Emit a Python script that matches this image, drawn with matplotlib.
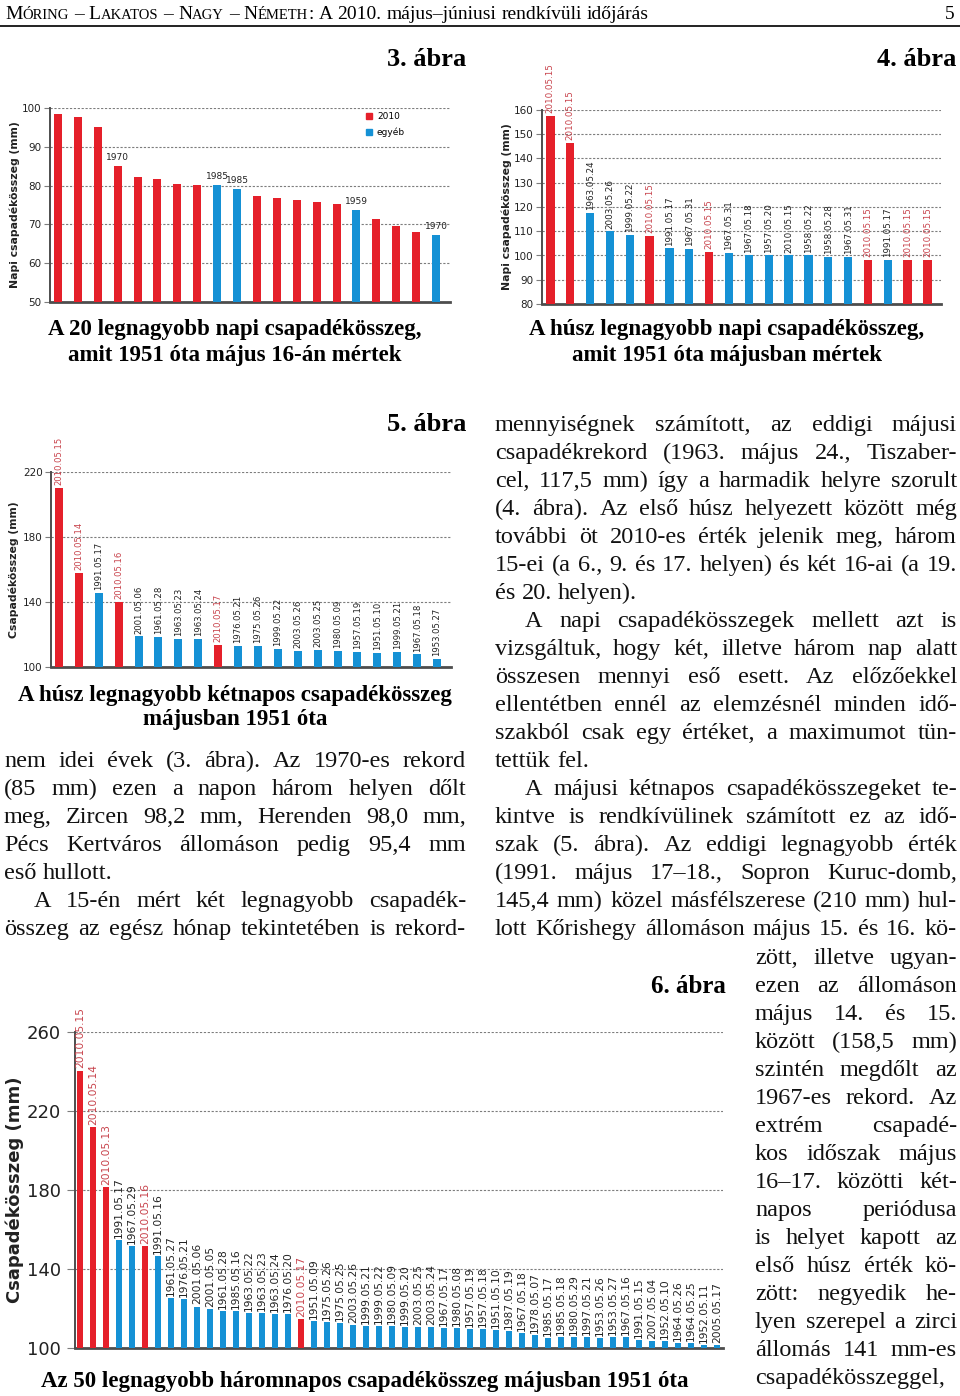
import matplotlib
matplotlib.use("Agg")
import matplotlib.pyplot as plt
from matplotlib.patches import Patch
import numpy as np

# ── data ─────────────────────────────────────────────────────
# 3. ábra: 20 largest daily sums on 16 May
c3_values = [98.4, 97.7, 95.1, 85.0, 82.2, 81.7, 80.5, 80.2, 80.2, 79.2,
             77.3, 76.7, 76.4, 75.7, 75.3, 73.7, 71.4, 69.5, 68.0, 67.2]
c3_groups = ["2010", "2010", "2010", "2010", "2010", "2010", "2010", "2010", "egyéb", "egyéb",
             "2010", "2010", "2010", "2010", "2010", "egyéb", "2010", "2010", "2010", "egyéb"]
c3_years  = ["", "", "", "1970", "", "", "", "", "1985", "1985",
             "", "", "", "", "", "1959", "", "", "", "1970"]

# 4. ábra: 20 largest daily sums in May
c4_dates  = ["2010.05.15", "2010.05.15", "1963.05.24", "2003.05.26", "1999.05.22",
             "2010.05.15", "1991.05.17", "1967.05.31", "2010.05.15", "1967.05.31",
             "1967.05.18", "1957.05.20", "2010.05.15", "1958.05.22", "1958.05.28",
             "1967.05.31", "2010.05.15", "1991.05.17", "2010.05.15", "2010.05.15"]
c4_values = [157.5, 146.3, 117.7, 109.9, 108.5, 108.1, 102.9, 102.6, 101.4, 101.0,
             100.0, 100.0, 100.0, 100.0, 99.3, 99.3, 98.3, 98.3, 98.3, 98.3]
c4_groups = ["2010", "2010", "egyéb", "egyéb", "egyéb", "2010", "egyéb", "egyéb", "2010", "egyéb",
             "egyéb", "egyéb", "egyéb", "egyéb", "egyéb", "egyéb", "2010", "egyéb", "2010", "2010"]

# 5. ábra: 20 largest two-day sums in May
c5_dates  = ["2010.05.15", "2010.05.14", "1991.05.17", "2010.05.16", "2001.05.06",
             "1961.05.28", "1963.05.23", "1963.05.24", "2010.05.17", "1976.05.21",
             "1975.05.26", "1999.05.22", "2003.05.26", "2003.05.25", "1980.05.09",
             "1957.05.19", "1951.05.10", "1999.05.21", "1967.05.18", "1953.05.27"]
c5_values = [210.1, 158.0, 145.5, 140.0, 118.9, 118.5, 117.1, 117.1, 113.8, 113.2,
             113.2, 111.3, 109.9, 110.7, 109.9, 109.5, 108.9, 109.3, 107.8, 105.1]
c5_groups = ["2010", "2010", "egyéb", "2010", "egyéb", "egyéb", "egyéb", "egyéb", "2010", "egyéb",
             "egyéb", "egyéb", "egyéb", "egyéb", "egyéb", "egyéb", "egyéb", "egyéb", "egyéb", "egyéb"]

# 6. ábra: 50 largest three-day sums in May
c6_dates  = ["2010.05.15", "2010.05.14", "2010.05.13", "1991.05.17", "1967.05.29",
             "2010.05.16", "1991.05.16", "1961.05.27", "1976.05.21", "2001.05.06",
             "2001.05.05", "1961.05.28", "1985.05.16", "1963.05.22", "1963.05.23",
             "1963.05.24", "1976.05.20", "2010.05.17", "1951.05.09", "1975.05.26",
             "1975.05.25", "2003.05.26", "1999.05.21", "1999.05.22", "1980.05.09",
             "1999.05.20", "2003.05.25", "2003.05.24", "1967.05.17", "1980.05.08",
             "1957.05.19", "1957.05.18", "1951.05.10", "1987.05.19", "1967.05.18",
             "1978.05.07", "1985.05.17", "1985.05.18", "1980.05.29", "1997.05.21",
             "1953.05.26", "1953.05.27", "1967.05.16", "1991.05.15", "2007.05.04",
             "1952.05.10", "1964.05.26", "1964.05.25", "1952.05.11", "2005.05.17"]
c6_values = [240.5, 211.8, 181.6, 154.6, 151.5, 151.5, 146.5, 125.2, 125.0, 121.0,
             119.8, 118.6, 118.6, 117.6, 117.6, 117.4, 117.0, 114.5, 113.6, 113.0,
             112.8, 111.8, 110.9, 110.9, 110.9, 110.4, 110.4, 110.4, 110.3, 110.3,
             109.7, 109.7, 109.1, 108.8, 107.6, 106.7, 105.2, 105.5, 105.4, 105.7,
             105.2, 105.5, 105.4, 104.0, 103.5, 103.4, 102.4, 102.4, 101.7, 101.5]
c6_groups = ["2010" if d.startswith("2010") else "egyéb" for d in c6_dates]

# ── style ────────────────────────────────────────────────────
RED, BLUE = "#e5202a", "#1591d5"
LABEL_RED, LABEL_DARK = "#c8434c", "#222222"
GRID, SPINE = "#7d7d7d", "#4d4d4d"
SANS, SERIF = "DejaVu Sans", "Liberation Serif"
W, H = 960, 1396

fig = plt.figure(figsize=(W / 100, H / 100), dpi=100, facecolor="white")
page = fig.add_axes([0, 0, 1, 1])
page.set_xlim(0, W)
page.set_ylim(H, 0)
page.axis("off")
R = fig.canvas.get_renderer()


def px_rect(left, top, right, bottom):
    return [left / W, 1 - bottom / H, (right - left) / W, (bottom - top) / H]


def width_of(s, **kw):
    t = page.text(0, 0, s, **kw)
    w = t.get_window_extent(renderer=R).width
    t.remove()
    return w


def jline(x0, x1, y, s, size=17.5, last=False, indent=0):
    # justified serif line, y = baseline in page pixels; shrink if it won't fit
    words = s.split(" ")
    while True:
        kw = dict(fontsize=size, family=SERIF, color="#111111")
        ws = [width_of(w, **kw) for w in words]
        room = x1 - x0 - indent - sum(ws)
        if len(words) == 1 or room / (len(words) - 1) >= size * 0.2 or size < 12:
            break
        size -= 0.25
    x = x0 + indent
    if last or len(words) == 1:
        gap = size * 0.25 * 1.39
    else:
        gap = room / (len(words) - 1)
    for w, wd in zip(words, ws):
        page.text(x, y, w, ha="left", va="baseline", **kw)
        x += wd + gap


def bar_chart(rect, values, groups, ylim, yticks, xlim, width, tick_fs, ylabel, ylabel_fs, ylabel_x):
    ax = fig.add_axes(px_rect(*rect))
    ax.set_facecolor("none")
    x = np.arange(len(values))
    colors = [RED if g == "2010" else BLUE for g in groups]
    ax.bar(x, values, width, color=colors, zorder=3)
    ax.set_xlim(*xlim)
    ax.set_ylim(*ylim)
    ax.set_xticks([])
    ax.set_yticks(yticks)
    ax.set_yticklabels([str(v) for v in yticks], fontsize=tick_fs, family=SANS, color="#222")
    ax.yaxis.grid(True, color=GRID, linestyle=(0, (2, 1.5)), linewidth=0.8, zorder=0)
    ax.tick_params(axis="y", length=4, width=0.8, color=GRID, pad=2)
    for s in ["top", "right"]:
        ax.spines[s].set_visible(False)
    ax.spines["left"].set_color(SPINE)
    ax.spines["left"].set_linewidth(1.4)
    ax.spines["bottom"].set_color(SPINE)
    ax.spines["bottom"].set_linewidth(2)
    ax.set_ylabel(ylabel, fontsize=ylabel_fs, family=SANS, fontweight="bold", color="#222")
    ax.yaxis.set_label_coords(ylabel_x, 0.5)
    return ax


def date_labels(ax, dates, values, groups, fs, gap=2):
    for i, (d, v, g) in enumerate(zip(dates, values, groups)):
        ax.annotate(d, (i, v), xytext=(0, gap), textcoords="offset points",
                    rotation=90, ha="center", va="bottom", fontsize=fs, family=SANS,
                    color=LABEL_RED if g == "2010" else LABEL_DARK, annotation_clip=False)


def bold_title(x, y, s, size=16.5):
    page.text(x, y, s, fontsize=size, family=SERIF, fontweight="bold", ha="center", va="center")


# ── header ───────────────────────────────────────────────────
hx = 5
for big, small, gap in [("M", "ÓRING", 5), ("–", "", 5), ("L", "AKATOS", 5), ("–", "", 5),
                        ("N", "AGY", 5), ("–", "", 5), ("N", "ÉMETH", 0), (":", "", 5),
                        ("A", "", 5), ("2010.", "", 5), ("május–júniusi", "", 5),
                        ("rendkívüli", "", 5), ("időjárás", "", 0)]:
    page.text(hx, 19, big, fontsize=14, family=SERIF, ha="left", va="baseline")
    hx += width_of(big, fontsize=14, family=SERIF)
    if small:
        page.text(hx, 19, small, fontsize=10.5, family=SERIF, ha="left", va="baseline")
        hx += width_of(small, fontsize=10.5, family=SERIF)
    hx += gap
page.text(955, 19, "5", fontsize=14, family=SERIF, ha="right", va="baseline")
page.plot([0, W], [26, 26], color="#111", lw=1.3)

# ── 3. ábra ──────────────────────────────────────────────────
ax3 = bar_chart((50, 108, 450, 302), c3_values, c3_groups, (50, 100), range(50, 101, 10),
                (-0.4, 19.7), 0.4, 7.5, "Napi csapadékösszeg (mm)", 7.8, -0.076)
for i, (yr, v) in enumerate(zip(c3_years, c3_values)):
    if yr:
        ax3.annotate(yr, (i, v), xytext=(0, 3), textcoords="offset points",
                     ha="center", va="bottom", fontsize=6.5, family=SANS, color="#222")
ax3.legend(handles=[Patch(color=RED, label="2010"), Patch(color=BLUE, label="egyéb")],
           loc="upper left", bbox_to_anchor=(0.77, 1.02), frameon=False,
           handlelength=0.7, handleheight=0.7, handletextpad=0.5, labelspacing=0.7,
           prop={"family": SANS, "size": 6.5})
page.text(466, 66, "3. ábra", fontsize=19, family=SERIF, fontweight="bold", ha="right", va="baseline")
bold_title(235, 330, "A 20 legnagyobb napi csapadékösszeg,")
bold_title(235, 356, "amit 1951 óta május 16-án mértek")

# ── 4. ábra ──────────────────────────────────────────────────
ax4 = bar_chart((542, 110, 941, 304), c4_values, c4_groups, (80, 160), range(80, 161, 10),
                (-0.42, 19.68), 0.42, 7.5, "Napi csapadékösszeg (mm)", 7.8, -0.074)
date_labels(ax4, c4_dates, c4_values, c4_groups, 6.3)
page.text(956, 66, "4. ábra", fontsize=19, family=SERIF, fontweight="bold", ha="right", va="baseline")
bold_title(727, 330, "A húsz legnagyobb napi csapadékösszeg,")
bold_title(727, 356, "amit 1951 óta májusban mértek")

# ── 5. ábra ──────────────────────────────────────────────────
ax5 = bar_chart((51, 472, 451, 667), c5_values, c5_groups, (100, 220), range(100, 221, 40),
                (-0.4, 19.7), 0.4, 7.5, "Csapadékösszeg (mm)", 7.8, -0.079)
date_labels(ax5, c5_dates, c5_values, c5_groups, 6.1)
page.text(466, 431, "5. ábra", fontsize=19, family=SERIF, fontweight="bold", ha="right", va="baseline")
bold_title(235, 695, "A húsz legnagyobb kétnapos csapadékösszeg")
bold_title(235, 720, "májusban 1951 óta")

# ── 6. ábra ──────────────────────────────────────────────────
ax6 = bar_chart((75, 1032, 723, 1348), c6_values, c6_groups, (100, 260), range(100, 261, 40),
                (-0.38, 49.46), 0.42, 13, "Csapadékösszeg (mm)", 13, -0.078)
ax6.tick_params(axis="y", length=6, pad=4)
date_labels(ax6, c6_dates, c6_values, c6_groups, 7.7, gap=1.5)
page.text(726, 993, "6. ábra", fontsize=18, family=SERIF, fontweight="bold", ha="right", va="baseline")
bold_title(365, 1381, "Az 50 legnagyobb háromnapos csapadékösszeg májusban 1951 óta")

# ── body text ────────────────────────────────────────────────
left_col = [
    ("nem idei évek (3. ábra). Az 1970-es rekord", False, 0),
    ("(85 mm) ezen a napon három helyen dőlt", False, 0),
    ("meg, Zircen 98,2 mm, Herenden 98,0 mm,", False, 0),
    ("Pécs Kertváros állomáson pedig 95,4 mm", False, 0),
    ("eső hullott.", True, 0),
    ("A 15-én mért két legnagyobb csapadék-", False, 30),
    ("összeg az egész hónap tekintetében is rekord-", False, 0),
]
for k, (s, last, ind) in enumerate(left_col):
    jline(4, 466, 767 + 28 * k, s, last=last, indent=ind)

right_col = [
    ("mennyiségnek számított, az eddigi májusi", False, 0),
    ("csapadékrekord (1963. május 24., Tiszaber-", False, 0),
    ("cel, 117,5 mm) így a harmadik helyre szorult", False, 0),
    ("(4. ábra). Az első húsz helyezett között még", False, 0),
    ("további öt 2010-es érték jelenik meg, három", False, 0),
    ("15-ei (a 6., 9. és 17. helyen) és két 16-ai (a 19.", False, 0),
    ("és 20. helyen).", True, 0),
    ("A napi csapadékösszegek mellett azt is", False, 30),
    ("vizsgáltuk, hogy két, illetve három nap alatt", False, 0),
    ("összesen mennyi eső esett. Az előzőekkel", False, 0),
    ("ellentétben ennél az elemzésnél minden idő-", False, 0),
    ("szakból csak egy értéket, a maximumot tün-", False, 0),
    ("tettük fel.", True, 0),
    ("A májusi kétnapos csapadékösszegeket te-", False, 30),
    ("kintve is rendkívülinek számított ez az idő-", False, 0),
    ("szak (5. ábra). Az eddigi legnagyobb érték", False, 0),
    ("(1991. május 17–18., Sopron Kuruc-domb,", False, 0),
    ("145,4 mm) közel másfélszerese (210 mm) hul-", False, 0),
    ("lott Kőrishegy állomáson május 15. és 16. kö-", False, 0),
]
for k, (s, last, ind) in enumerate(right_col):
    jline(495, 957, 431 + 28 * k, s, last=last, indent=ind)

narrow_col = [
    "zött, illetve ugyan-", "ezen az állomáson", "május 14. és 15.", "között (158,5 mm)",
    "szintén megdőlt az", "1967-es rekord. Az", "extrém csapadé-", "kos időszak május",
    "16–17. közötti két-", "napos periódusa", "is helyet kapott az", "első húsz érték kö-",
    "zött: negyedik he-", "lyen szerepel a zirci", "állomás 141 mm-es", "csapadékösszeggel,",
]
for k, s in enumerate(narrow_col):
    jline(755, 957, 964 + 28 * k, s)

fig.savefig("out.png", dpi=100, facecolor="white")
